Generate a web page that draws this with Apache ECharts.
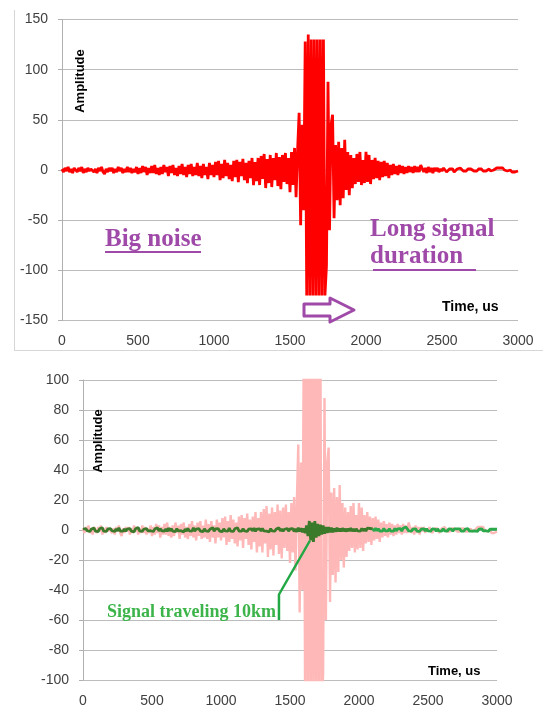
<!DOCTYPE html>
<html>
<head>
<meta charset="utf-8">
<script src="https://cdn.jsdelivr.net/npm/echarts@6/dist/echarts.min.js"></script>
<style>
  html, body { margin: 0; padding: 0; background: #fff; }
  #chart { width: 543px; height: 708px; }
</style>
</head>
<body>
<div id="chart"></div>
<script>
// Sampling interval of the recorded traces (microseconds)
const SAMPLE_STEP_US = 10;

// Received amplitude without processing, one sample every 10 us from 0 to 3000 us
const rawSignal = [
  1, -2, 2, -1, 3, -2, 1, -3, 2, 0,
  -2, 2, -1, 3, -3, 1, -2, 2, -1, 1,
  2, -2, 1, -3, 2, -1, 3, -2, -4, 1,
  -2, 2, -1, 2, -3, 1, -2, 3, -1, 2,
  -3, 1, -2, 3, -2, 2, -3, 1, -2, 3,
  -4, 2, -3, 4, -2, 3, -5, 2, -3, 4,
  -3, 5, -4, 2, -5, 3, -4, 5, -2, 3,
  -6, 4, -3, 5, -5, 2, -6, 4, -4, 6,
  -5, 3, -7, 5, -4, 6, -6, 3, -5, 7,
  -6, 4, -8, 6, -5, 3, -9, 7, -5, 5,
  -7, 8, -5, 9, -10, 6, -8, 10, -6, 7,
  -9, 5, -11, 9, -7, 10, -12, 8, -6, 11,
  -10, 7, -13, 9, -8, 12, -15, 8, -11, 12,
  -15, 14, -9, 16, -18, 11, -13, 15, -17, 12,
  -10, 17, -16, 13, -19, 15, -12, 17, -14, 12,
  -22, 18, -15, 22, -27, 20, 57, -55, 45, -40,
  128, -125, 135, -125, 130, -125, 130, -125, 130, -125,
  130, -125, 130, -125, -95, 88, -60, 45, 55, -48,
  25, -30, 28, -35, 22, -28, 30, -20, 18, -25,
  15, -18, 12, -14, 16, -12, 18, -15, 10, -13,
  18, -12, 15, -14, 10, -9, 12, -8, 9, -10,
  8, -7, 9, -6, 7, -8, 5, -5, 6, -4,
  4, -5, 5, -3, 4, -4, 3, -3, 4, -2,
  3, -3, 4, -2, 3, -2, 5, 4, -2, 2,
  -3, 3, -2, 2, -3, 2, -1, 2, -2, 1,
  -1, 2, 1, -2, -1, 1, 2, 1, -2, -1,
  1, 0, 2, 1, -1, -2, -1, 1, 2, 1,
  0, -1, -2, -1, 1, 2, 1, -1, -2, -1,
  0, 1, -1, -2, 0, 1, 2, 3, 2, 1,
  2, 0, 1, -1, -1, 0, -2, -1, -2, -1,
  -1
];

// Signal after travelling 10 km, same sampling (0 - 2100 us)
const travelledSignalEarly = [
  0.5, -0.8, 1, -0.5, 0.8, -1, 0.6, -0.4, 1.2, -0.7,
  0.6, -1, 0.8, -0.5, 1.5, -0.8, 0.5, -0.9, 0.7, -0.6,
  0.9, -0.5, 0.6, -1, 0.8, -0.6, 1.4, -0.7, 0.5, -0.8,
  0.7, -0.9, 0.6, -0.5, 1, -0.7, 0.6, -1.2, 0.8, -0.5,
  1.6, -0.6, 0.7, -0.9, 0.5, -0.8, 1, -0.6, 0.7, -0.5,
  0.8, -1, 0.6, -0.7, 1.5, -0.6, 0.9, -0.5, 0.7, -0.8,
  0.6, -0.9, 1.3, -0.6, 0.8, -0.7, 0.5, -1, 0.9, -0.6,
  0.7, -0.5, 0.8, -1.3, 0.6, -0.8, 1, -0.6, 0.5, -0.7,
  1.4, -0.8, 0.6, -0.5, 0.9, -0.7, 0.6, -1, 0.8, -0.6,
  0.7, -0.9, 0.5, -0.6, 1.6, -0.8, 0.7, -0.5, 0.9, -0.7,
  0.6, -1, 0.8, -0.6, 0.5, -0.8, 1.2, -0.7, 0.6, -0.9,
  0.8, -0.5, 1.5, -0.7, 0.6, -0.8, 0.9, -0.6, 0.7, -1,
  0.5, -0.7, 0.8, -0.6, 1.3, -0.9, 0.6, -0.5, 0.8, -0.7,
  1, -0.6, 0.7, -0.8, 0.5, -1.2, 0.9, -0.6, 0.7, -0.8,
  0.6, -0.7, 1.4, -0.6, 0.8, -0.9, 0.5, -0.7, 1, -0.8,
  0.7, -0.6, 0.9, -1, 0.8, -1.2, 1.5, -1, 1.2, -1.5,
  1, -2, 3, -4, 6, -7, 5, -8, 6, -5,
  4, -4, 3.5, -3, 3, -2.5, 2, -2, 2, -1.5,
  1.5, -1.5, 1, -1.2, 1.5, -1, 1, -1, 1.2, -0.8,
  0.8, -1, 0.9, -0.7, 1.2, -0.8, 0.6, -0.9, 0.8, -0.6,
  0.7, -0.8, 1, -0.6, 0.8, -0.7, 1.2, 0.6, 1, 0.5,
  0.8
];

// Continuation of the travelled signal (2100 - 3000 us)
const travelledSignalLate = [
  0.8, -0.6, 1.2, -0.5, 0.9, -0.7, 0.6, -0.8, 1, -0.5,
  0.7, -0.6, 0.9, -0.8, 0.5, -0.7, 1, -0.6, 0.8, -0.5,
  0.9, -0.7, 1.2, 0.8, 2, 1.2, -0.6, 0.7, -0.8, 0.6,
  -0.5, 0.8, -0.7, 0.6, -0.9, 0.5, -0.6, 0.8, -0.7, 0.9,
  -0.6, 0.5, -0.8, 0.7, -0.5, 0.6, -0.9, 0.8, -0.6, 0.5,
  -0.7, 0.9, -0.5, 0.6, -0.8, 0.7, -0.6, 0.5, -0.9, 0.8,
  -0.5, 0.7, -0.6, 0.8, -0.7, 0.5, -0.8, 0.6, -0.5, 0.9,
  -0.7, 0.6, -0.8, 0.5, -0.6, 0.7, -0.9, 0.6, -0.5, 0.8,
  -0.6, 0.7, -0.5, 0.8, -0.9, 0.6, -0.7, 0.5, -0.8, 0.6,
  0.5
];
const LATE_START_US = 2100;

// Leader from the green label to the travelled signal (time us, amplitude)
const leaderPoints = [[1420, -60], [1420, -43], [1645, -7]];

const toPairs = (vals, t0) => vals.map((v, i) => [t0 + i * SAMPLE_STEP_US, v]);

const AXIS_FONT = '"Liberation Sans", Arial, sans-serif';
const SERIF_FONT = '"Liberation Serif", "Times New Roman", serif';
const PURPLE = '#9f4aa8';

function xAxisCfg(gridIndex, labelMargin) {
  return {
    type: 'value', gridIndex, min: 0, max: 3000, interval: 500,
    axisLine: { show: false }, axisTick: { show: false }, splitLine: { show: false },
    axisLabel: { color: '#404040', fontSize: 14, fontFamily: AXIS_FONT, margin: labelMargin,
                 formatter: v => String(v) }
  };
}
function yAxisCfg(gridIndex, min, max, interval) {
  return {
    type: 'value', gridIndex, min, max, interval,
    axisLine: { show: true, onZero: false, lineStyle: { color: '#b0b0b0', width: 1 } },
    axisTick: { show: true, length: 4, lineStyle: { color: '#b0b0b0' } },
    splitLine: { show: true, lineStyle: { color: '#bcbcbc', width: 1 } },
    axisLabel: { color: '#404040', fontSize: 14, fontFamily: AXIS_FONT, margin: 14,
                 formatter: v => String(v) }
  };
}

const chart = echarts.init(document.getElementById('chart'), null, { renderer: 'canvas' });

chart.setOption({
  animation: false,
  backgroundColor: '#ffffff',
  grid: [
    { left: 62, right: 25, top: 19.5, height: 301 },
    { left: 83, right: 46, top: 380, height: 303.5 }
  ],
  xAxis: [xAxisCfg(0, 14), xAxisCfg(1, 14)],
  yAxis: [yAxisCfg(0, -150, 150, 50), yAxisCfg(1, -100, 100, 20)],
  series: [
    {
      type: 'line', xAxisIndex: 0, yAxisIndex: 0, data: toPairs(rawSignal, 0),
      showSymbol: false, clip: true, z: 3,
      lineStyle: { color: '#ff0000', width: 2.8 }
    },
    {
      type: 'line', xAxisIndex: 1, yAxisIndex: 1, data: toPairs(rawSignal, 0),
      showSymbol: false, clip: true, z: 2,
      lineStyle: { color: '#ffb8b8', width: 2.4 }
    },
    {
      type: 'line', xAxisIndex: 1, yAxisIndex: 1, data: toPairs(travelledSignalEarly, 0),
      showSymbol: false, clip: true, z: 4,
      lineStyle: { color: '#3b7a2a', width: 2.8 }
    },
    {
      type: 'line', xAxisIndex: 1, yAxisIndex: 1, data: toPairs(travelledSignalLate, LATE_START_US),
      showSymbol: false, clip: true, z: 4,
      lineStyle: { color: '#2aa84a', width: 2.8 }
    },
    {
      type: 'line', xAxisIndex: 1, yAxisIndex: 1, data: leaderPoints,
      showSymbol: false, clip: false, z: 5,
      lineStyle: { color: '#22a845', width: 2.5 }
    }
  ],
  graphic: [
    // light frame around the upper panel
    { type: 'line', shape: { x1: 14.5, y1: 10, x2: 14.5, y2: 350.5 }, style: { stroke: '#d6d6d6', lineWidth: 1 } },
    { type: 'line', shape: { x1: 14, y1: 350.5, x2: 543, y2: 350.5 }, style: { stroke: '#d6d6d6', lineWidth: 1 } },

    { type: 'text', x: 80, y: 81, rotation: Math.PI / 2, z: 10,
      style: { text: 'Amplitude', fill: '#000', font: 'bold 13px ' + AXIS_FONT, align: 'center', verticalAlign: 'middle' } },
    { type: 'text', x: 442, y: 307, z: 10,
      style: { text: 'Time, us', fill: '#000', font: 'bold 14px ' + AXIS_FONT, align: 'left', verticalAlign: 'middle' } },

    { type: 'text', x: 105, y: 240, z: 10,
      style: { text: 'Big noise', fill: PURPLE, font: 'bold 25px ' + SERIF_FONT, align: 'left', verticalAlign: 'middle' } },
    { type: 'line', z: 10, shape: { x1: 105, y1: 252, x2: 201, y2: 252 }, style: { stroke: PURPLE, lineWidth: 2 } },

    { type: 'text', x: 370, y: 230, z: 10,
      style: { text: 'Long signal', fill: PURPLE, font: 'bold 25px ' + SERIF_FONT, align: 'left', verticalAlign: 'middle' } },
    { type: 'text', x: 370, y: 257, z: 10,
      style: { text: 'duration', fill: PURPLE, font: 'bold 25px ' + SERIF_FONT, align: 'left', verticalAlign: 'middle' } },
    { type: 'line', z: 10, shape: { x1: 373, y1: 270, x2: 476, y2: 270 }, style: { stroke: PURPLE, lineWidth: 2 } },

    { type: 'polygon', z: 10,
      shape: { points: [[304, 304], [330, 304], [330, 298], [354, 310], [330, 322], [330, 316], [304, 316]] },
      style: { fill: '#ffffff', stroke: PURPLE, lineWidth: 3, lineJoin: 'round' } },

    { type: 'text', x: 98.5, y: 441, rotation: Math.PI / 2, z: 10,
      style: { text: 'Amplitude', fill: '#000', font: 'bold 13px ' + AXIS_FONT, align: 'center', verticalAlign: 'middle' } },
    { type: 'text', x: 428, y: 671, z: 10,
      style: { text: 'Time, us', fill: '#000', font: 'bold 13px ' + AXIS_FONT, align: 'left', verticalAlign: 'middle' } },
    { type: 'text', x: 107, y: 612, z: 10,
      style: { text: 'Signal traveling 10km', fill: '#3cb44a', font: 'bold 18px ' + SERIF_FONT, align: 'left', verticalAlign: 'middle' } }
  ]
});
</script>
</body>
</html>
